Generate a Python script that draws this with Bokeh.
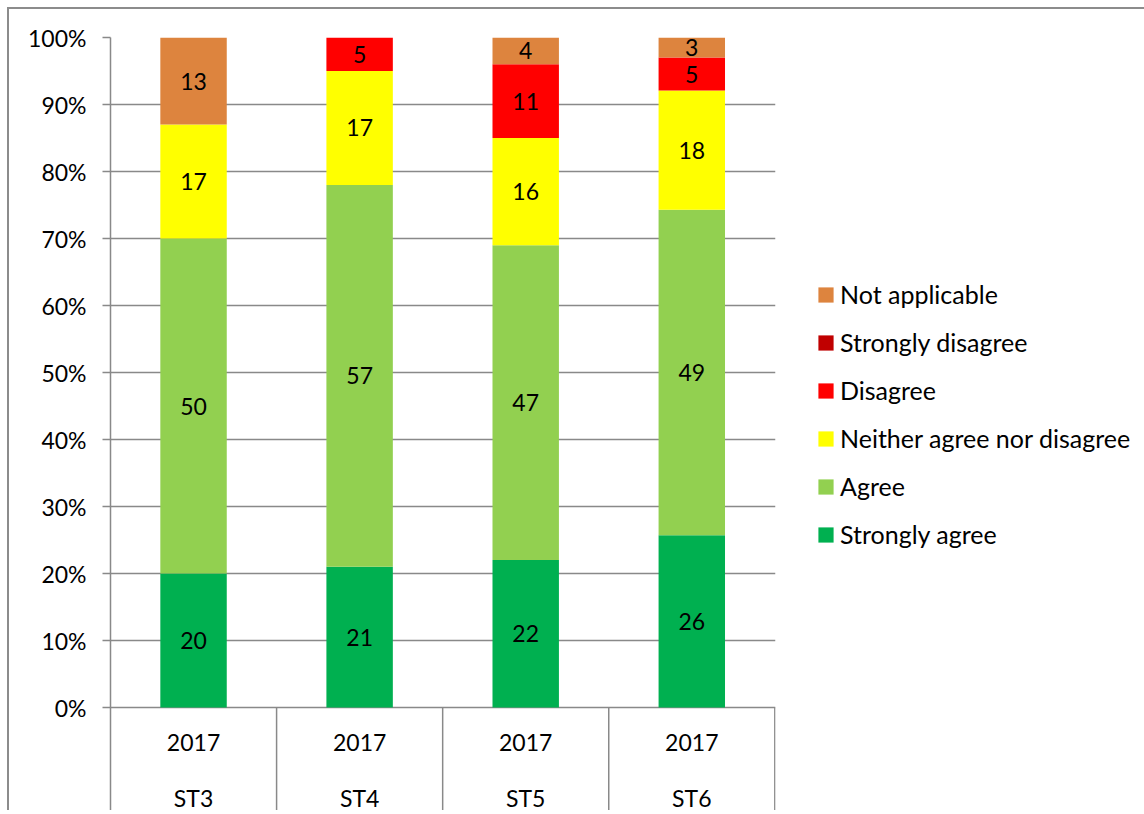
from bokeh.plotting import figure
from bokeh.models import Range1d, FixedTicker, PrintfTickFormatter, Legend, LegendItem, ColumnDataSource
from bokeh.core.properties import value
from bokeh.embed import file_html
from bokeh.resources import INLINE

# ---------------- data ----------------
groups = ["ST3", "ST4", "ST5", "ST6"]
years = ["2017", "2017", "2017", "2017"]
series = ["Strongly agree", "Agree", "Neither agree nor disagree",
          "Disagree", "Strongly disagree", "Not applicable"]
colors = ["#00B050", "#92D050", "#FFFF00", "#FF0000", "#C00000", "#DD843E"]
strongly_agree = [20, 21, 22, 25.7]
agree = [50, 57, 47, 48.6]
neither = [17, 17, 16, 17.8]
disagree = [0, 5, 11, 4.9]
strongly_disagree = [0, 0, 0, 0]
not_applicable = [13, 0, 4, 3.0]
y_ticks = [0, 10, 20, 30, 40, 50, 60, 70, 80, 90, 100]

values = [strongly_agree, agree, neither, disagree, strongly_disagree, not_applicable]
totals = [sum(v[i] for v in values) for i in range(len(groups))]
pct = [[v[i] / totals[i] * 100 for i in range(len(groups))] for v in values]

FONT = "Lato"
FS = "23px"
LEG_FS = "25px"
GRID = "#898989"

# ---------------- layout constants ----------------
PX_PER_UNIT = 6.7          # pixels per percent
FRAME_H = 773
AXIS_AREA_PX = FRAME_H - 100 * PX_PER_UNIT   # category label area below 0%
y_bottom = -AXIS_AREA_PX / PX_PER_UNIT

p = figure(frame_width=665, frame_height=FRAME_H, output_backend="svg", toolbar_location=None,
           x_range=Range1d(0, len(groups) + 0.004), y_range=Range1d(y_bottom, 100),
           x_axis_location=None, min_border_left=101, min_border_right=0,
           min_border_top=28, min_border_bottom=0)
p.styles = {"margin-left": "7px", "margin-top": "7px",
            "border-left": "2px solid #8c8c8c", "border-top": "2px solid #8c8c8c"}
p.outline_line_color = None
p.background_fill_color = "white"
p.border_fill_color = "white"

xc = [i + 0.5 for i in range(len(groups))]
keys = ["s%d" % k for k in range(len(series))]
data = {"x": xc}
for k, col in zip(keys, pct):
    data[k] = col
src = ColumnDataSource(data)

renderers = p.vbar_stack(keys, x="x", width=0.4, color=colors, line_color=None, source=src)

# ---- axes / grid ----
ticker = FixedTicker(ticks=y_ticks, minor_ticks=[])
p.yaxis.ticker = ticker
p.yaxis.formatter = PrintfTickFormatter(format="%d%%")
p.yaxis.axis_line_color = GRID
p.yaxis.axis_line_width = 1.5
p.yaxis.major_tick_line_color = GRID
p.yaxis.major_tick_line_width = 1.5
p.yaxis.major_tick_out = 8
p.yaxis.major_tick_in = 0
p.yaxis.minor_tick_line_color = None
p.yaxis.major_label_text_font = FONT
p.yaxis.major_label_text_font_size = FS
p.yaxis.major_label_text_color = "black"
p.yaxis.major_label_standoff = 16
p.ygrid.ticker = ticker
p.ygrid.grid_line_color = GRID
p.ygrid.grid_line_width = 1.5
p.xgrid.grid_line_color = None

# ---- category separators ----
bounds = list(range(1, len(groups) + 1))
p.segment(x0=bounds, y0=[y_bottom] * len(bounds), x1=bounds, y1=[0] * len(bounds),
          line_color=GRID, line_width=1.5)

# ---- value labels ----
lx, ly, lt = [], [], []
for i in range(len(groups)):
    base = 0.0
    for s in range(len(series)):
        v = pct[s][i]
        if values[s][i] > 0:
            lx.append(xc[i])
            ly.append(base + v / 2)
            lt.append(str(int(round(values[s][i]))))
        base += v
p.text(x=lx, y=ly, text=lt, text_align="center", text_baseline="middle",
       text_font=value(FONT), text_font_size=FS, text_color="black")

# ---- category labels ----
p.text(x=xc, y=[-35 / PX_PER_UNIT] * len(groups), text=years, text_align="center",
       text_baseline="middle", text_font=value(FONT), text_font_size=FS, text_color="black")
p.text(x=xc, y=[-90 / PX_PER_UNIT] * len(groups), text=groups, text_align="center",
       text_baseline="middle", text_font=value(FONT), text_font_size=FS, text_color="black")

# ---- legend ----
items = [LegendItem(label=series[s], renderers=[renderers[s]]) for s in reversed(range(len(series)))]
legend = Legend(items=items, location=(41, 261), padding=0, margin=0,
                glyph_width=19, glyph_height=19, label_height=19, spacing=18,
                label_standoff=5, label_text_font=FONT, label_text_font_size=LEG_FS,
                label_text_color="black", border_line_color=None, background_fill_alpha=0)
p.add_layout(legend, "right")

open("out.html", "w").write(file_html(p, INLINE))
